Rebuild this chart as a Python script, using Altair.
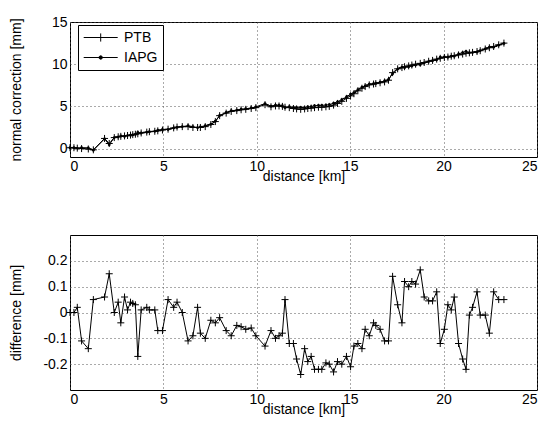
import altair as alt
import pandas as pd

distance_km = [0, 0.21, 0.39, 0.62, 0.98, 1.25, 1.85, 2.1, 2.37, 2.58,
               2.72, 2.92, 3.08, 3.24, 3.36, 3.5, 3.63, 3.81, 4.11, 4.25,
               4.54, 4.7, 4.95, 5.25, 5.55, 5.73, 6.01, 6.32, 6.58, 6.83,
               6.98, 7.24, 7.54, 7.78, 8.01, 8.36, 8.63, 8.93, 9.16, 9.41,
               9.7, 9.95, 10.44, 10.76, 11.0, 11.19, 11.37, 11.51, 11.74, 11.96,
               12.13, 12.35, 12.56, 12.73, 12.91, 13.09, 13.3, 13.48, 13.7, 13.88,
               14.11, 14.32, 14.55, 14.8, 15.02, 15.2, 15.41, 15.63, 15.8, 16.02,
               16.25, 16.37, 16.6, 16.84, 17.05, 17.27, 17.54, 17.77, 17.91, 18.13,
               18.3, 18.5, 18.75, 18.96, 19.2, 19.41, 19.63, 19.82, 20.04, 20.23,
               20.41, 20.57, 20.8, 21.02, 21.2, 21.38, 21.55, 21.79, 21.96, 22.23,
               22.45, 22.68, 22.95, 23.23]

ptb_mm = [0.1, 0.1, 0.05, 0.0, -0.05, -0.15, 1.2, 0.6, 1.3, 1.4,
          1.45, 1.5, 1.55, 1.6, 1.65, 1.7, 1.75, 1.85, 1.95, 2.0,
          2.05, 2.1, 2.2, 2.3, 2.45, 2.55, 2.6, 2.6, 2.5, 2.5,
          2.5, 2.6, 2.85, 3.2, 3.9, 4.2, 4.4, 4.5, 4.6, 4.65,
          4.75, 4.85, 5.2, 4.95, 5.05, 5.05, 5.0, 4.9, 4.85, 4.75,
          4.7, 4.65, 4.7, 4.75, 4.8, 4.85, 4.9, 4.9, 4.95, 5.0,
          5.15, 5.35, 5.6, 5.95, 6.25, 6.5, 6.85, 7.15, 7.35, 7.55,
          7.65, 7.7, 7.8, 7.9, 8.1, 9.0, 9.45, 9.6, 9.7, 9.8,
          9.9, 10.0, 10.1, 10.2, 10.35, 10.45, 10.6, 10.7, 10.8, 10.85,
          10.95, 11.0, 11.1, 11.2, 11.3, 11.35, 11.4, 11.5, 11.6, 11.8,
          11.95, 12.1, 12.3, 12.5]

iapg_mm = [0.10, 0.10, 0.03, 0.11, 0.09, -0.20, 1.14, 0.45, 1.30, 1.36,
           1.49, 1.44, 1.54, 1.56, 1.62, 1.67, 1.92, 1.84, 1.93, 1.99,
           2.04, 2.17, 2.27, 2.25, 2.43, 2.51, 2.60, 2.71, 2.59, 2.48,
           2.58, 2.70, 2.88, 3.24, 3.92, 4.27, 4.49, 4.55, 4.66, 4.72,
           4.81, 4.94, 5.33, 5.02, 5.15, 5.14, 5.08, 4.85, 4.97, 4.87,
           4.88, 4.89, 4.84, 4.94, 4.97, 5.07, 5.12, 5.12, 5.15, 5.20,
           5.38, 5.54, 5.80, 6.12, 6.46, 6.63, 6.97, 7.29, 7.42, 7.64,
           7.69, 7.75, 7.87, 8.01, 8.21, 8.86, 9.42, 9.64, 9.58, 9.70,
           9.78, 9.89, 9.94, 10.14, 10.31, 10.41, 10.52, 10.82, 10.87, 10.82,
           10.94, 10.94, 11.22, 11.38, 11.52, 11.36, 11.38, 11.42, 11.61, 11.81,
           12.03, 12.02, 12.25, 12.45]

difference_mm = [0, 0, 0.02, -0.11, -0.14, 0.05, 0.06, 0.15, 0.0, 0.04,
                 -0.04, 0.06, 0.01, 0.04, 0.035, 0.03, -0.17, 0.01, 0.02, 0.01,
                 0.01, -0.07, -0.07, 0.05, 0.02, 0.04, 0.0, -0.11, -0.09, 0.02,
                 -0.08, -0.10, -0.03, -0.04, -0.02, -0.07, -0.09, -0.05, -0.055, -0.065,
                 -0.06, -0.09, -0.13, -0.07, -0.10, -0.09, -0.08, 0.05, -0.12, -0.12,
                 -0.18, -0.24, -0.14, -0.19, -0.17, -0.22, -0.22, -0.22, -0.195, -0.20,
                 -0.23, -0.19, -0.20, -0.17, -0.21, -0.13, -0.12, -0.14, -0.065, -0.09,
                 -0.04, -0.05, -0.065, -0.11, -0.11, 0.14, 0.03, -0.04, 0.12, 0.10,
                 0.12, 0.11, 0.165, 0.06, 0.045, 0.045, 0.08, -0.12, -0.065, 0.03,
                 0.01, 0.06, -0.12, -0.18, -0.22, -0.01, 0.02, 0.08, -0.01, -0.01,
                 -0.08, 0.08, 0.05, 0.05]

series_names = ["PTB", "IAPG"]
x_ticks = [0, 5, 10, 15, 20, 25]
top_y_ticks = [0, 5, 10, 15]
bottom_y_ticks = [-0.2, -0.1, 0, 0.1, 0.2]

n = len(distance_km)
top_df = pd.DataFrame({
    "distance": distance_km + distance_km,
    "value": ptb_mm + iapg_mm,
    "series": ["PTB"] * n + ["IAPG"] * n,
})
bottom_df = pd.DataFrame({"distance": distance_km, "difference": difference_mm})

FONT = "Liberation Sans"
PLUS = "M-1,0L1,0M0,-1L0,1"
LEG_PTB = "M-1,0L4,0M1.5,-0.6L1.5,0.6"
LEG_IAPG = "M-1,0L4,0M1.25,0A0.25,0.25 0 1,0 1.75,0A0.25,0.25 0 1,0 1.25,0"

W = 467
AX = dict(labelFont=FONT, labelFontSize=14, labelColor="black",
          titleFont=FONT, titleFontSize=14, titleFontWeight="normal", titleColor="black",
          grid=True, gridColor="#555", gridDash=[1, 3], gridWidth=1,
          ticks=False, tickSize=0, domain=False)

x_axis = alt.Axis(values=x_ticks, title="distance [km]", format="d",
                  labelPadding=2, titlePadding=-4, **AX)
x_enc = alt.X("distance:Q", scale=alt.Scale(domain=[0, 25], nice=False, zero=False),
              axis=x_axis)

y_top = alt.Y("value:Q", scale=alt.Scale(domain=[-1, 15], nice=False, zero=False),
              axis=alt.Axis(values=top_y_ticks, title="normal correction [mm]",
                            titleX=-47, labelPadding=3, **AX))

top_line = alt.Chart(top_df).mark_line(color="black", strokeWidth=1).encode(
    x=x_enc, y=y_top, detail="series:N")
top_ptb = alt.Chart(top_df).transform_filter("datum.series == 'PTB'").mark_point(
    shape=PLUS, filled=False, color="black", size=49, strokeWidth=1, opacity=1
).encode(x=x_enc, y=y_top)
top_iapg = alt.Chart(top_df).transform_filter("datum.series == 'IAPG'").mark_point(
    shape="circle", filled=True, color="black", size=8, opacity=1
).encode(x=x_enc, y=y_top)
legend_layer = alt.Chart(top_df).transform_filter("false").mark_point(
    filled=True, fill="black", stroke="black", strokeWidth=1, size=185, opacity=1
).encode(
    x=x_enc, y=y_top,
    shape=alt.Shape("series:N",
                    scale=alt.Scale(domain=series_names, range=[LEG_PTB, LEG_IAPG]),
                    legend=alt.Legend(title=None, orient="none", legendX=8, legendY=3,
                                      strokeColor="black", fillColor="white",
                                      padding=5, symbolSize=185,
                                      symbolStrokeWidth=1, symbolOpacity=1,
                                      labelFontSize=14, labelFont=FONT,
                                      labelColor="black",
                                      labelOffset=26, rowPadding=5,
                                      cornerRadius=0)))

top = alt.layer(top_line, top_ptb, top_iapg, legend_layer).properties(width=W, height=135)

y_bottom = alt.Y("difference:Q", scale=alt.Scale(domain=[-0.3, 0.3], nice=False, zero=False),
                 axis=alt.Axis(values=bottom_y_ticks, title="difference [mm]",
                               titleX=-47, labelPadding=3,
                               labelExpr="abs(datum.value) < 1e-9 ? '0' : replace(format(datum.value, '.1f'), '\u2212', '-')",
                               **AX))

bottom_line = alt.Chart(bottom_df).mark_line(color="black", strokeWidth=1).encode(
    x=x_enc, y=y_bottom)
bottom_pts = alt.Chart(bottom_df).mark_point(
    shape=PLUS, filled=False, color="black", size=49, strokeWidth=1, opacity=1
).encode(x=x_enc, y=y_bottom)

bottom = alt.layer(bottom_line, bottom_pts).properties(width=W, height=155)

PAD = {"left": 0, "top": 6, "right": 0, "bottom": 0}
chart = alt.vconcat(top, bottom, spacing=50).properties(
    padding=PAD
).configure(
    background="white", padding=PAD
).configure_view(
    stroke="black", strokeWidth=1
)

chart.save("out.html", embed_options={"renderer": "svg", "actions": False})
